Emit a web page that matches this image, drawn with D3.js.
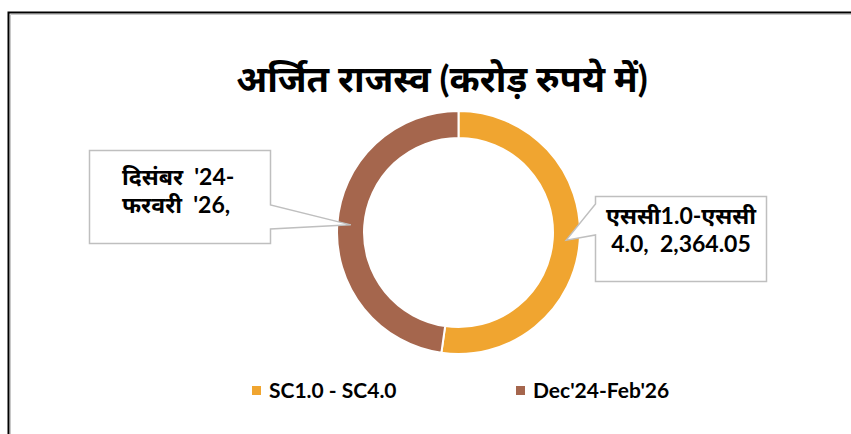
<!DOCTYPE html>
<html>
<head>
<meta charset="utf-8">
<script src="https://cdn.jsdelivr.net/npm/d3@7"></script>
<style>
  body { margin: 0; background: #fff; }
  text { font-family: Lato, "Noto Sans", sans-serif; font-weight: bold; fill: #000; }
</style>
</head>
<body>
<div id="chart"></div>
<script>
const WIDTH = 851;
const HEIGHT = 434;

const categories = ["SC1.0 - SC4.0", "Dec'24-Feb'26"];
const values = [2364.05, 2160];
const colors = ["#F0A530", "#A5664D"];
const titleText = "अर्जित राजस्व (करोड़ रुपये में)";
const calloutLines = [
  ["एससी1.0-एससी", "4.0,  2,364.05"],
  ["दिसंबर  '24-", "फरवरी  '26,"],
];

const CENTER = { X: 458.5, Y: 232.5 };
const OUTER = 121.5;
const INNER = 94.5;

const svg = d3
  .select("#chart")
  .append("svg")
  .attr("width", WIDTH)
  .attr("height", HEIGHT);

// frame: black edge with a light grey line inside
svg.append("path")
  .attr("d", `M851,14.5 H10.5 V434`)
  .attr("fill", "none")
  .attr("stroke", "#c8c8c8")
  .attr("stroke-width", 1);
svg.append("path")
  .attr("d", `M851,12.5 H8.5 V434`)
  .attr("fill", "none")
  .attr("stroke", "#000")
  .attr("stroke-width", 2);

const title = svg.append("text")
  .attr("x", 442)
  .attr("y", 92)
  .attr("text-anchor", "middle")
  .attr("font-size", "36px")
  .text(titleText);
// fit the title to the width seen in the reference
const tw = title.node().getComputedTextLength();
title.attr("font-size", (36 * 412 / tw).toFixed(1) + "px");

const data = categories.map((c, i) => ({ name: c, value: values[i], color: colors[i], lines: calloutLines[i] }));

const pie = d3.pie().sort(null).value((d) => d.value);
const arc = d3.arc().innerRadius(INNER).outerRadius(OUTER);
const midArc = d3.arc().innerRadius((INNER + OUTER) / 2).outerRadius((INNER + OUTER) / 2);

const donut = svg.append("g").attr("transform", `translate(${CENTER.X}, ${CENTER.Y})`);

const arcs = pie(data);

donut
  .selectAll("path")
  .data(arcs)
  .enter()
  .append("path")
  .attr("d", arc)
  .style("fill", (d) => d.data.color)
  .style("stroke", "#fff")
  .style("stroke-width", 2);

// callout boxes (x, y, w, h, side where the pointer leaves, pointer base y's)
const boxes = [
  { x: 595.5, y: 196.5, w: 171, h: 85, side: "left", b1: 204, b2: 235, anchor: "middle", tx: 681, ty: [224, 252], fw: 152 },
  { x: 89.5, y: 150.5, w: 181, h: 93, side: "right", b1: 205, b2: 229, anchor: "start", tx: 122, ty: [185, 213], fw: 115 },
];

arcs.forEach((a, i) => {
  const b = boxes[i];
  const c = midArc.centroid(a);
  const tip = [CENTER.X + c[0], CENTER.Y + c[1]];
  let d;
  if (b.side === "left") {
    d = `M${b.x},${b.y} H${b.x + b.w} V${b.y + b.h} H${b.x} V${b.b2} L${tip[0]},${tip[1]} L${b.x},${b.b1} Z`;
  } else {
    const r = b.x + b.w;
    d = `M${b.x},${b.y} H${r} V${b.b1} L${tip[0]},${tip[1]} L${r},${b.b2} V${b.y + b.h} H${b.x} Z`;
  }
  svg.append("path")
    .attr("d", d)
    .attr("fill", "#fff")
    .attr("stroke", "#bfbfbf")
    .attr("stroke-width", 1.5);

  const texts = a.data.lines.map((line, j) =>
    svg.append("text")
      .attr("x", b.tx)
      .attr("y", b.ty[j])
      .attr("text-anchor", b.anchor)
      .attr("font-size", "22px")
      .style("white-space", "pre")
      .text(line)
  );
  // first line width sets the size for the box
  const w0 = texts[0].node().getComputedTextLength();
  const fs = Math.min(23, 22 * b.fw / w0).toFixed(1) + "px";
  texts.forEach((t) => t.attr("font-size", fs));
});

// legend
const legendX = d3.scalePoint().domain(categories).range([252, 516]);

const legend = svg
  .selectAll(".legend")
  .data(data)
  .enter()
  .append("g")
  .attr("class", "legend")
  .attr("transform", (d) => `translate(${legendX(d.name)}, 386)`);

legend.append("rect")
  .attr("width", 9)
  .attr("height", 9)
  .style("fill", (d) => d.color);

legend.append("text")
  .attr("x", 17)
  .attr("y", 11.5)
  .attr("font-size", "21px")
  .text((d) => d.name);
</script>
</body>
</html>
